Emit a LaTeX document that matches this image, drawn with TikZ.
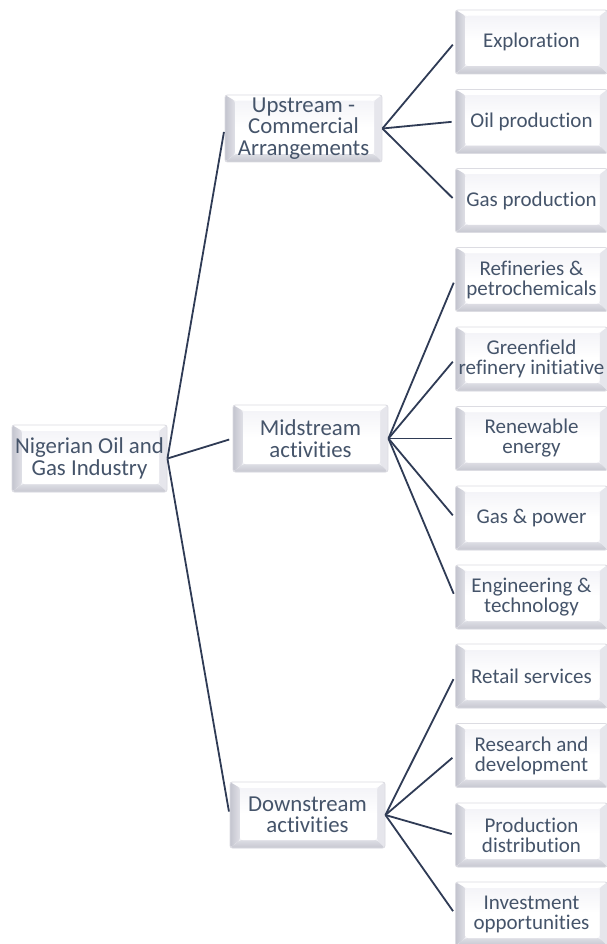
\documentclass[tikz,border=0pt]{standalone}
\usepackage{fontspec}
\setmainfont[Ligatures={NoCommon,NoRare,NoContextual},RawFeature={-liga;-dlig;-clig}]{Carlito}
\definecolor{txtC}{HTML}{45546A}
\definecolor{lineC}{HTML}{2F3B55}
\definecolor{faceC}{HTML}{F4F4F8}
\definecolor{edgeC}{HTML}{DCDCE2}
\definecolor{bevL}{HTML}{C3C4CE}
\definecolor{bevB}{HTML}{C6C7D0}
\definecolor{bevR}{HTML}{E6E6EC}
\tikzset{
  bevbox/.style={rectangle, rounded corners=2.5pt, fill=faceC, draw=edgeC, line width=0.9pt,
    text=txtC, align=center, inner sep=0pt,
    path picture={
      \path (path picture bounding box.north west) coordinate (pNW)
            (path picture bounding box.north east) coordinate (pNE)
            (path picture bounding box.south west) coordinate (pSW)
            (path picture bounding box.south east) coordinate (pSE);
      \fill[white] (pNW) -- (pNE) -- ([shift={(-8pt,-6pt)}]pNE) -- ([shift={(10pt,-6pt)}]pNW) -- cycle;
      \fill[bevR] (pNE) -- (pSE) -- ([shift={(-8pt,8pt)}]pSE) -- ([shift={(-8pt,-6pt)}]pNE) -- cycle;
      \fill[left color=bevL, right color=faceC!60!bevL] (pNW) -- ([shift={(10pt,-6pt)}]pNW) -- ([shift={(10pt,8pt)}]pSW) -- (pSW) -- cycle;
      \fill[bottom color=bevB, top color=faceC!50!bevB] (pSW) -- ([shift={(10pt,8pt)}]pSW) -- ([shift={(-8pt,8pt)}]pSE) -- (pSE) -- cycle;
      \fill[top color=faceC, bottom color=white, middle color=white] ([shift={(10pt,-6pt)}]pNW) rectangle ([shift={(-8pt,8pt)}]pSE);
    }},
  midbox/.style={bevbox, minimum width=155pt, minimum height=67pt, font=\fontsize{22.8}{21.5}\selectfont},
  leafbox/.style={bevbox, minimum width=152pt, minimum height=64pt, font=\fontsize{21}{20}\selectfont},
  conn/.style={draw=lineC, line width=1.8pt, shorten >=3.5pt}
}
\begin{document}
\begin{tikzpicture}[x=1pt,y=-1pt]
\useasboundingbox (0,0) rectangle (607,944);
\fill[white] (0,0) rectangle (607,944);
\node[midbox] (root) at (89.5,458.5) {Nigerian Oil and\\Gas Industry};
\node[midbox, minimum width=157pt] (up) at (303.5,128.5) {Upstream -\\Commercial\\Arrangements};
\node[midbox] (mid) at (310.5,438.5) {Midstream\\activities};
\node[midbox, minimum height=66pt] (down) at (307.5,815) {Downstream\\activities};
\node[leafbox] (l1) at (531.5,42) {Exploration};
\node[leafbox] (l2) at (531.5,121.5) {Oil production};
\node[leafbox] (l3) at (531.5,200.5) {Gas production};
\node[leafbox] (l4) at (531.5,279.5) {Refineries \&\\petrochemicals};
\node[leafbox] (l5) at (531.5,359) {Greenfield\\refinery initiative};
\node[leafbox] (l6) at (531.5,438.5) {Renewable\\energy};
\node[leafbox] (l7) at (531.5,518) {Gas \& power};
\node[leafbox] (l8) at (531.5,597) {Engineering \&\\technology};
\node[leafbox] (l9) at (531.5,676) {Retail services};
\node[leafbox] (l10) at (531.5,755.5) {Research and\\development};
\node[leafbox] (l11) at (531.5,835) {Production\\distribution};
\node[leafbox] (l12) at (531.5,914) {Investment\\opportunities};
\foreach \c in {up,mid,down} \draw[conn] (root.east) -- (\c.west);
\foreach \c in {l1,l2,l3} \draw[conn] (up.east) -- (\c.west);
\foreach \c in {l4,l5,l6,l7,l8} \draw[conn] (mid.east) -- (\c.west);
\foreach \c in {l9,l10,l11,l12} \draw[conn] (down.east) -- (\c.west);
\end{tikzpicture}
\end{document}
